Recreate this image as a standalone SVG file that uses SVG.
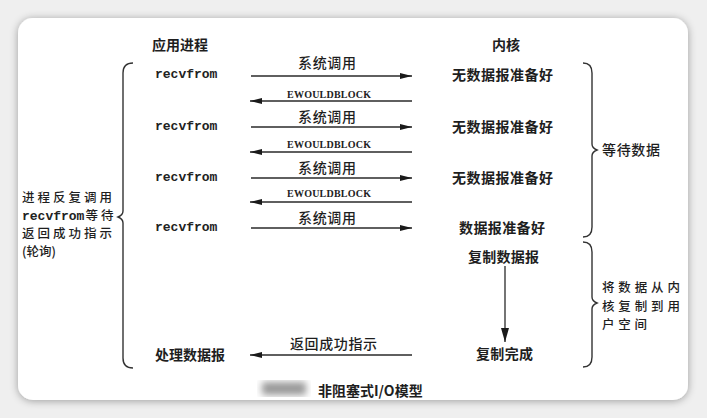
<svg xmlns="http://www.w3.org/2000/svg" width="707" height="418" viewBox="0 0 707 418">
<defs>
<filter id="shadow" x="-10%" y="-10%" width="120%" height="120%">
<feGaussianBlur in="SourceAlpha" stdDeviation="4"/>
<feOffset dx="0" dy="1"/>
<feComponentTransfer><feFuncA type="linear" slope="0.35"/></feComponentTransfer>
<feMerge><feMergeNode/><feMergeNode in="SourceGraphic"/></feMerge>
</filter>
<filter id="blur"><feGaussianBlur stdDeviation="3.5"/></filter>
<marker id="ah" viewBox="0 0 12 6" refX="12" refY="3" markerWidth="12" markerHeight="6" markerUnits="userSpaceOnUse" orient="auto">
<path d="M0,0 L12,3 L0,6 Z" fill="#1a1a1a"/>
</marker>
<marker id="ahd" viewBox="0 0 8 14" refX="4" refY="14" markerWidth="8" markerHeight="14" markerUnits="userSpaceOnUse" orient="0">
<path d="M0,0 L8,0 L4,14 Z" fill="#1a1a1a"/>
</marker>
</defs>
<style>
.cjk{font-family:"Noto Sans CJK SC","Noto Sans",sans-serif;font-size:14px;font-weight:700;fill:#1e1e1e}
.cjkr{font-family:"Noto Sans CJK SC","Noto Sans",sans-serif;font-size:14px;font-weight:500;fill:#1e1e1e}
.multi{font-family:"Noto Sans CJK SC","Noto Sans",sans-serif;font-size:12.5px;font-weight:500;fill:#1e1e1e}
.mono{font-family:"Liberation Mono","Courier New",monospace;font-size:13px;font-weight:700;fill:#222}
.ew{font-family:"Liberation Serif","Times New Roman",serif;font-size:10px;font-weight:700;fill:#222}
.ln{stroke:#2a2a2a;stroke-width:1.3;fill:none}
.br{stroke:#333;stroke-width:1.4;fill:none}
</style>
<rect x="0" y="0" width="707" height="418" fill="#efefef"/>
<rect x="18" y="18" width="670" height="382" rx="15" fill="#ffffff" filter="url(#shadow)"/>

<g id="header-app"><text class="cjk" x="152" y="50">应用进程</text></g>
<g id="header-kernel"><text class="cjk" x="492" y="50">内核</text></g>

<g id="app-recvfrom-1"><text class="mono" x="155" y="78">recvfrom</text></g>
<g id="app-recvfrom-2"><text class="mono" x="155" y="130">recvfrom</text></g>
<g id="app-recvfrom-3"><text class="mono" x="155" y="181">recvfrom</text></g>
<g id="app-recvfrom-4"><text class="mono" x="155" y="231">recvfrom</text></g>
<g id="app-process"><text class="cjk" x="155" y="360">处理数据报</text></g>

<g id="kernel-nodata-1"><text class="cjk" x="452" y="80" textLength="101">无数据报准备好</text></g>
<g id="kernel-nodata-2"><text class="cjk" x="452" y="132" textLength="101">无数据报准备好</text></g>
<g id="kernel-nodata-3"><text class="cjk" x="452" y="183" textLength="101">无数据报准备好</text></g>
<g id="kernel-ready"><text class="cjk" x="459" y="233" textLength="86">数据报准备好</text></g>
<g id="kernel-copy"><text class="cjk" x="468" y="262" textLength="71">复制数据报</text></g>
<g id="kernel-done"><text class="cjk" x="476" y="359" textLength="57">复制完成</text></g>

<g id="label-left">
<path class="br" d="M133,63 Q123,63 123,73 L123,211 Q123,215 118,217 Q123,219 123,223 L123,358 Q123,368 133,368"/>
<text class="multi" x="22" y="202" textLength="90">进程反复调用</text>
<text x="22" y="220"><tspan class="mono" font-size="12.5">recvfrom</tspan><tspan class="multi" dx="1" textLength="28">等待</tspan></text>
<text class="multi" x="22" y="238" textLength="90">返回成功指示</text>
<text class="multi" x="22" y="256">(轮询)</text>
</g>
<g id="label-wait">
<path class="br" d="M583,63 Q592,63 592,73 L592,144 Q592,148 597,150 Q592,152 592,156 L592,227 Q592,237 583,237"/>
<text class="cjkr" x="602" y="155" textLength="58">等待数据</text>
</g>
<g id="label-copy">
<path class="br" d="M583,242 Q592,242 592,252 L592,297 Q592,301 597,303 Q592,305 592,309 L592,357 Q592,367 583,367"/>
<text class="multi" x="602" y="292" textLength="78">将数据从内</text>
<text class="multi" x="602" y="310.5" textLength="78">核复制到用</text>
<text class="multi" x="602" y="329" textLength="45">户空间</text>
</g>

<g id="connectors">
<line class="ln" x1="251" y1="76" x2="412" y2="76" marker-end="url(#ah)"/>
<text class="cjkr" x="298" y="68" textLength="58">系统调用</text>
<line class="ln" x1="412" y1="101" x2="250" y2="101" marker-end="url(#ah)"/>
<text class="ew" x="287" y="98" textLength="84">EWOULDBLOCK</text>
<line class="ln" x1="251" y1="127" x2="412" y2="127" marker-end="url(#ah)"/>
<text class="cjkr" x="298" y="122" textLength="58">系统调用</text>
<line class="ln" x1="412" y1="152" x2="250" y2="152" marker-end="url(#ah)"/>
<text class="ew" x="287" y="148" textLength="84">EWOULDBLOCK</text>
<line class="ln" x1="251" y1="178" x2="412" y2="178" marker-end="url(#ah)"/>
<text class="cjkr" x="298" y="173" textLength="58">系统调用</text>
<line class="ln" x1="412" y1="202" x2="250" y2="202" marker-end="url(#ah)"/>
<text class="ew" x="287" y="197" textLength="84">EWOULDBLOCK</text>
<line class="ln" x1="251" y1="228" x2="412" y2="228" marker-end="url(#ah)"/>
<text class="cjkr" x="298" y="223" textLength="58">系统调用</text>
<line class="ln" x1="412" y1="355" x2="250" y2="355" marker-end="url(#ah)"/>
<text class="cjkr" x="290" y="349" textLength="87">返回成功指示</text>
<line class="ln" x1="505" y1="266" x2="505" y2="342" marker-end="url(#ahd)"/>
</g>

<g id="caption">
<rect x="262" y="382" width="44" height="13" fill="#9a9a9a" filter="url(#blur)"/>
<text class="cjk" x="318" y="396" font-size="16">非阻塞式I/O模型</text>
</g>
</svg>
